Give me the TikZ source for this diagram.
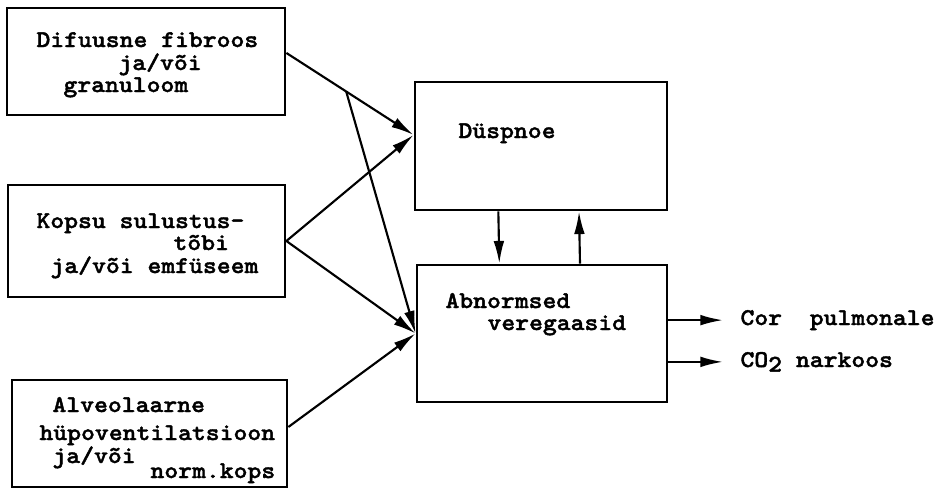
\documentclass[tikz,border=0pt]{standalone}
\usepackage{fontspec}
\newfontfamily\typew[FakeStretch=1.1,FakeBold=1.6]{lmmonolt10-bold.otf}
\usetikzlibrary{arrows.meta,fit,calc}
\tikzset{every picture/.style={line width=0.75pt}}

\begin{document}
\begin{tikzpicture}[x=0.75pt,y=0.75pt,yscale=-1,xscale=1,
  box/.style={draw, line width=2.1pt, inner sep=0pt},
  arr/.style={-{Latex[length=17pt,width=8pt]}, line width=1.6pt},
  txt/.style={anchor=base west, inner sep=0pt, font=\fontsize{18}{19}\typew}]
  \useasboundingbox (0,0) rectangle (942,490);

  %Boxes
  \node (fib) [box, fit={(7,8) (285,115)}] {};
  \node (kop) [box, fit={(8,185) (285,297)}] {};
  \node (alv) [box, fit={(12,380) (287,487)}] {};
  \node (dus) [box, fit={(415,82) (667,210)}] {};
  \node (abn) [box, fit={(417,265) (667,402)}] {};

  % Text Node
  \node (fib1) [txt] at (36,47) {Difuusne fibroos};
  \node (fib2) [txt] at (118,70) {ja/või};
  \node (fib3) [txt] at (63,92) {granuloom};
  % Text Node
  \node (kop1) [txt] at (36,228) {Kopsu sulustus-};
  \node (kop2) [txt] at (173,250) {tõbi};
  \node (kop3) [txt] at (50,273) {ja/või emfüseem};
  % Text Node
  \node (alv1) [txt] at (52,412) {Alveolaarne};
  \node (alv2) [txt] at (39,440) {hüpoventilatsioon};
  \node (alv3) [txt] at (52,463) {ja/või};
  \node (alv4) [txt] at (150,478) {norm.kops};
  % Text Node
  \node (dus1) [txt] at (458,138) {Düspnoe};
  \node (abn1) [txt] at (445,308) {Abnormsed};
  \node (abn2) [txt] at (487,330) {veregaasid};
  % Text Node
  \node (cor) [txt] at (740,325) {Cor~ pulmonale};
  \node (co2) [txt] at (740,367) {CO\raisebox{-0.45ex}{2} narkoos};

  %Straight Lines
  \coordinate (fibout) at ([yshift=-6.4pt]fib.east);
  \coordinate (dusin) at ([yshift=-8.3pt]dus.west);
  \coordinate (split) at ($(fibout)!0.47!(dusin)$);
  \draw [arr] (fibout) -- (dusin);
  \draw [arr] (split) -- (abn.west);
  \draw [arr] (kop.east) -- (dusin);
  \draw [arr] (kop.east) -- (abn.west);
  \draw [arr] ([yshift=-4.9pt]alv.east) -- (abn.west);
  %Straight Lines
  \draw [arr] ([xshift=-32pt]dus.south) -- ([xshift=-32pt]abn.north);
  \draw [arr] ([xshift=28.5pt]abn.north) -- ([xshift=28.5pt]dus.south);
  %Straight Lines
  \draw [arr, shorten >=12.75pt] (abn.east |- cor.west) -- (cor.west);
  \draw [arr, shorten >=12.75pt] (abn.east |- co2.west) -- (co2.west);

\end{tikzpicture}
\end{document}
